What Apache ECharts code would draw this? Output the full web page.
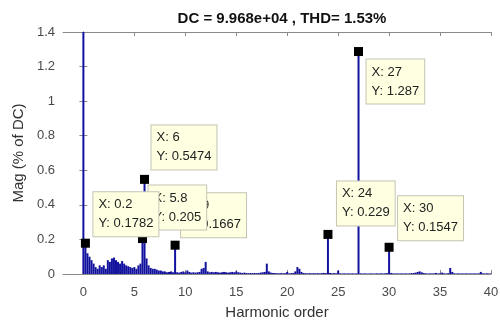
<!DOCTYPE html>
<html>
<head>
<meta charset="utf-8">
<script src="https://cdn.jsdelivr.net/npm/echarts@6/dist/echarts.min.js"></script>
<style>
  html, body { margin: 0; padding: 0; background: #fff; }
  #chart { width: 500px; height: 320px; }
</style>
</head>
<body>
<div id="chart"></div>
<script>
// harmonic spectrum, resolution 0.2 order, one row per harmonic (k, k+0.2 ... k+0.8)
const step = 0.2;
const mags = [
  100, 0.1782, 0.12, 0.10, 0.08,
  0.06, 0.04, 0.03, 0.05, 0.04,
  0.05, 0.03, 0.08, 0.07, 0.09,
  0.095, 0.08, 0.07, 0.06, 0.075,
  0.06, 0.05, 0.045, 0.04, 0.035,
  0.04, 0.03, 0.05, 0.06, 0.205,
  0.5474, 0.09, 0.05, 0.035, 0.03,
  0.03, 0.025, 0.02, 0.02, 0.015,
  0.015, 0.01, 0.012, 0.015, 0.01,
  0.1667, 0.01, 0.008, 0.012, 0.015,
  0.01, 0.02, 0.012, 0.008, 0.01,
  0.008, 0.01, 0.012, 0.03, 0.035,
  0.07, 0.015, 0.01, 0.012, 0.01,
  0.012, 0.01, 0.008, 0.01, 0.012,
  0.01, 0.008, 0.01, 0.012, 0.01,
  0.015, 0.01, 0.008, 0.006, 0.008,
  0.006, 0.005, 0.006, 0.005, 0.006,
  0.005, 0.006, 0.008, 0.01, 0.012,
  0.06, 0.015, 0.008, 0.006, 0.005,
  0.005, 0.004, 0.005, 0.004, 0.005,
  0.012, 0.004, 0.005, 0.006, 0.015,
  0.04, 0.03, 0.012, 0.006, 0.005,
  0.004, 0.005, 0.004, 0.005, 0.004,
  0.005, 0.004, 0.005, 0.006, 0.005,
  0.229, 0.006, 0.004, 0.005, 0.004,
  0.02, 0.004, 0.003, 0.004, 0.003,
  0.004, 0.003, 0.004, 0.003, 0.004,
  1.287, 0.004, 0.003, 0.004, 0.003,
  0.003, 0.004, 0.003, 0.003, 0.004,
  0.003, 0.004, 0.003, 0.004, 0.005,
  0.1547, 0.006, 0.004, 0.003, 0.004,
  0.003, 0.004, 0.003, 0.004, 0.003,
  0.004, 0.005, 0.006, 0.008, 0.012,
  0.015, 0.01, 0.006, 0.004, 0.003,
  0.004, 0.003, 0.004, 0.006, 0.003,
  0.004, 0.008, 0.004, 0.003, 0.005,
  0.035, 0.012, 0.004, 0.003, 0.004,
  0.003, 0.004, 0.003, 0.004, 0.003,
  0.004, 0.003, 0.004, 0.003, 0.004,
  0.012, 0.004, 0.003, 0.004, 0.003,
  0.003
];

// data tips (drawn in this order, last on top)
const tipX = [9, 5.8, 0.2, 6, 24, 27, 30];
const tipY = [0.1667, 0.205, 0.1782, 0.5474, 0.229, 1.287, 0.1547];
const tipOffset = [[6, -30], [6, -31], [8, -29], [7, -32], [9, -31], [8, 30], [9, -29]];

const xTicks = [0, 5, 10, 15, 20, 25, 30, 35, 40];
const titleText = 'DC = 9.968e+04 , THD= 1.53%';

const font = 'Liberation Sans, Arial, sans-serif';
const axisGrey = '#8a8a8a';
const textGrey = '#4a4a4a';
const barBlue = '#12129e';

const spectrum = mags.map((v, i) => [+(i * step).toFixed(1), v]);
const tips = tipX.map((x, i) => ({
  value: [x, tipY[i]],
  label: { offset: tipOffset[i] }
}));

const chart = echarts.init(document.getElementById('chart'));

const xBase = {
  type: 'value', min: -2, max: 40,
  splitLine: { show: false },
  axisLine: { show: true, onZero: false, lineStyle: { color: axisGrey, width: 1 } },
  axisTick: { show: true, inside: true, length: 4, customValues: xTicks, lineStyle: { color: axisGrey } }
};
const yBase = {
  type: 'value', min: 0, max: 1.4, interval: 0.2,
  splitLine: { show: false },
  axisLine: { show: true, lineStyle: { color: axisGrey, width: 1 } },
  axisTick: { show: true, inside: true, length: 4, lineStyle: { color: axisGrey } }
};

chart.setOption({
  animation: false,
  backgroundColor: '#fff',
  title: {
    text: titleText,
    left: 277, top: 5, textAlign: 'center',
    textStyle: { fontFamily: font, fontSize: 15, fontWeight: 'bold', color: '#111', lineHeight: 18 }
  },
  grid: { left: 63, right: 9, top: 32, bottom: 46, outerBoundsMode: 'none' },
  xAxis: [
    Object.assign({}, xBase, {
      position: 'bottom',
      name: 'Harmonic order', nameLocation: 'middle', nameGap: 31,
      nameTextStyle: { fontFamily: font, fontSize: 15, color: '#333' },
      axisLabel: { customValues: xTicks, margin: 12, fontFamily: font, fontSize: 13, color: textGrey }
    }),
    Object.assign({}, xBase, { position: 'top', axisLabel: { show: false } })
  ],
  yAxis: [
    Object.assign({}, yBase, {
      position: 'left',
      name: 'Mag (% of DC)', nameLocation: 'middle', nameGap: 37,
      nameTextStyle: { fontFamily: font, fontSize: 15, color: '#333' },
      axisLabel: { margin: 8, fontFamily: font, fontSize: 13, color: textGrey }
    }),
    Object.assign({}, yBase, { position: 'right', axisLabel: { show: false } })
  ],
  series: [
    {
      type: 'bar',
      data: spectrum,
      barWidth: 2,
      clip: true,
      itemStyle: { color: barBlue }
    },
    {
      type: 'scatter',
      data: tips,
      symbol: 'rect',
      symbolSize: 9,
      itemStyle: { color: '#000', opacity: 1 },
      z: 5,
      label: {
        show: true,
        position: 'inside',
        align: 'left',
        formatter: p => 'X: ' + p.value[0] + '\nY: ' + p.value[1],
        fontFamily: font, fontSize: 13, lineHeight: 19,
        color: '#222',
        backgroundColor: '#ffffe1',
        borderColor: '#c4c4b4', borderWidth: 1,
        padding: [3, 5]
      }
    }
  ]
});
</script>
</body>
</html>
